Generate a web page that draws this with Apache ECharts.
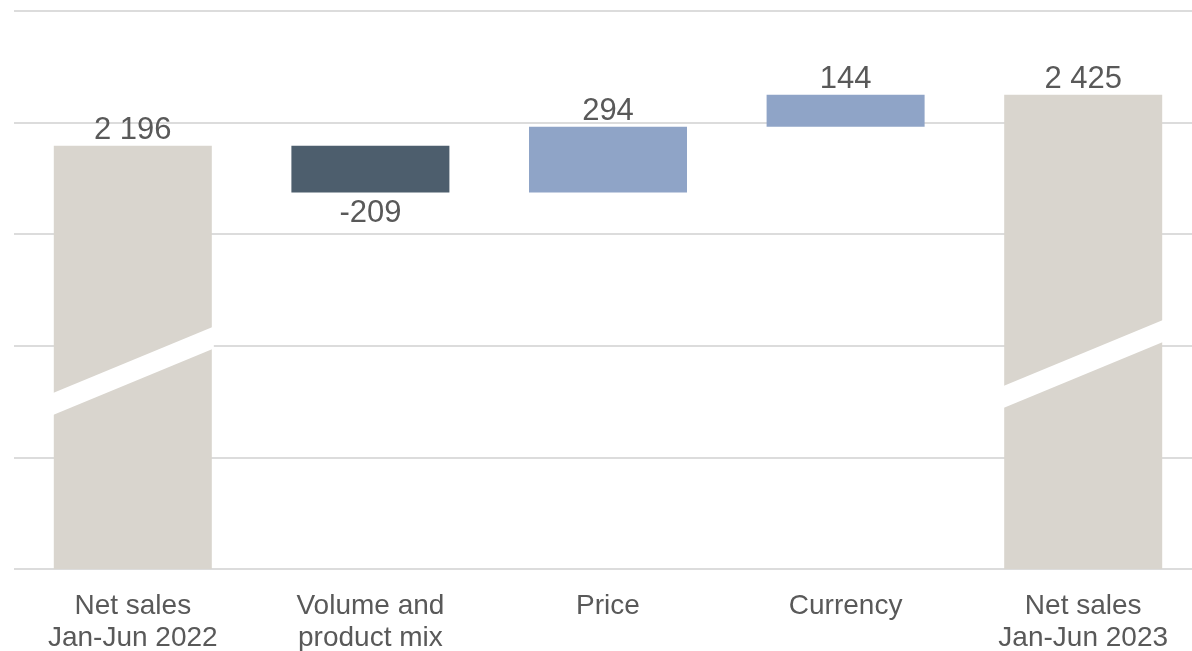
<!DOCTYPE html>
<html>
<head>
<meta charset="utf-8">
<script src="https://cdn.jsdelivr.net/npm/echarts@6/dist/echarts.min.js"></script>
<style>
  html, body { margin: 0; padding: 0; background: #fff; }
  #chart { width: 1192px; height: 651px; }
</style>
</head>
<body>
<div id="chart"></div>
<script>
// data
const categories = ['Net sales\nJan-Jun 2022', 'Volume and\nproduct mix', 'Price', 'Currency', 'Net sales\nJan-Jun 2023']
const startValue = 2196
const changes = [-209, 294, 144]
const endValue = 2425
// where the axis break is drawn on the two total bars
const breakValues = [1187, 1218]

const barColors = ['#d9d5ce', '#4d5e6d', '#8fa4c7', '#8fa4c7', '#d9d5ce']
const textColor = '#595959'
const barRatio = 0.665

function fmt(v) {
  return String(v).replace(/\B(?=(\d{3})+(?!\d))/g, ' ')
}

// build waterfall base + visible parts
const baseData = [0]
const barData = [{ value: startValue, raw: startValue, itemStyle: { color: barColors[0] }, label: { position: 'top', distance: 0 } }]
let running = startValue
changes.forEach((c, i) => {
  const next = running + c
  baseData.push(Math.min(running, next))
  barData.push({
    value: Math.abs(c),
    raw: c,
    itemStyle: { color: barColors[i + 1] },
    label: c < 0 ? { position: 'bottom', distance: 5 } : { position: 'top', distance: 0 }
  })
  running = next
})
baseData.push(0)
barData.push({ value: endValue, raw: endValue, itemStyle: { color: barColors[4] }, label: { position: 'top', distance: 0 } })

const chart = echarts.init(document.getElementById('chart'))
chart.setOption({
  animation: false,
  grid: { left: 14, width: 1188, top: 11, bottom: 82, outerBoundsMode: 'none', containLabel: false },
  xAxis: {
    type: 'category',
    data: categories,
    axisLine: { show: false },
    axisTick: { show: false },
    axisLabel: {
      color: textColor,
      fontFamily: 'Liberation Sans, Arial, sans-serif',
      fontSize: 28,
      lineHeight: 32,
      margin: 21,
      interval: 0
    }
  },
  yAxis: [
    {
      // only for the gridlines
      type: 'value',
      min: 0,
      max: 5,
      interval: 1,
      axisLabel: { show: false },
      axisLine: { show: false },
      axisTick: { show: false },
      splitLine: { lineStyle: { color: '#dcdcdc', width: 2 } }
    },
    {
      type: 'value',
      min: 300,
      max: 2800,
      show: false,
      splitLine: { show: false }
    }
  ],
  series: [
    {
      name: 'base',
      type: 'bar',
      yAxisIndex: 1,
      stack: 'wf',
      barWidth: (barRatio * 100) + '%',
      itemStyle: { color: 'transparent' },
      emphasis: { disabled: true },
      silent: true,
      data: baseData
    },
    {
      name: 'value',
      type: 'bar',
      yAxisIndex: 1,
      stack: 'wf',
      barWidth: (barRatio * 100) + '%',
      label: {
        show: true,
        color: textColor,
        fontFamily: 'Liberation Sans, Arial, sans-serif',
        fontSize: 31,
        formatter: p => fmt(p.data.raw)
      },
      data: barData
    },
    {
      name: 'break',
      type: 'custom',
      yAxisIndex: 1,
      z: 5,
      silent: true,
      data: [[0, breakValues[0]], [4, breakValues[1]]],
      renderItem: function (params, api) {
        const c = api.coord([api.value(0), api.value(1)])
        const band = api.size([1, 0])[0]
        const w = band * barRatio + 4
        const rise = 67
        const thick = 22
        const x0 = c[0] - w / 2
        const x1 = c[0] + w / 2
        return {
          type: 'polygon',
          shape: {
            points: [
              [x0, c[1] + rise / 2 - thick / 2],
              [x1, c[1] - rise / 2 - thick / 2],
              [x1, c[1] - rise / 2 + thick / 2],
              [x0, c[1] + rise / 2 + thick / 2]
            ]
          },
          style: { fill: '#ffffff' }
        }
      }
    }
  ]
})
</script>
</body>
</html>
